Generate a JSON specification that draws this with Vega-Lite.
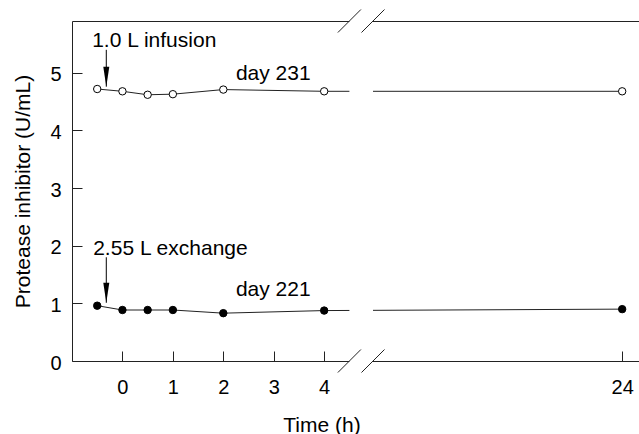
{
  "$schema": "https://vega.github.io/schema/vega-lite/v6.json",
  "width": 567,
  "height": 340,
  "autosize": "none",
  "padding": {"left": 72, "top": 21, "right": 0, "bottom": 73},
  "background": "white",
  "config": {
    "view": {"stroke": null},
    "font": "Liberation Sans",
    "axis": {
      "grid": false,
      "domainColor": "#222",
      "tickColor": "#222",
      "labelColor": "#000",
      "titleColor": "#000",
      "labelFont": "Liberation Sans",
      "titleFont": "Liberation Sans",
      "labelFontSize": 20,
      "titleFontSize": 21,
      "titleFontWeight": "normal"
    }
  },
  "datasets": {
    "series": [
      {"series": "day 231", "time": -0.5, "value": 4.72},
      {"series": "day 231", "time": 0, "value": 4.68},
      {"series": "day 231", "time": 0.5, "value": 4.62},
      {"series": "day 231", "time": 1, "value": 4.63},
      {"series": "day 231", "time": 2, "value": 4.71},
      {"series": "day 231", "time": 4, "value": 4.68},
      {"series": "day 231", "time": 24, "value": 4.68},
      {"series": "day 221", "time": -0.5, "value": 0.96},
      {"series": "day 221", "time": 0, "value": 0.885},
      {"series": "day 221", "time": 0.5, "value": 0.885},
      {"series": "day 221", "time": 1, "value": 0.885},
      {"series": "day 221", "time": 2, "value": 0.83},
      {"series": "day 221", "time": 4, "value": 0.875},
      {"series": "day 221", "time": 24, "value": 0.9}
    ],
    "gap": [{"x1": 4.5, "x2": 20, "y1": -0.3, "y2": 6.2}],
    "breaks": [
      {"x": 4.5, "y": 0}, {"x": 20, "y": 0},
      {"x": 4.5, "y": 5.9}, {"x": 20, "y": 5.9}
    ],
    "arrows": [
      {"x": -0.32, "top": 5.4, "tip": 4.76},
      {"x": -0.32, "top": 1.8, "tip": 1.01}
    ],
    "notes": [
      {"text": "1.0 L infusion", "x": -0.6, "y": 5.45},
      {"text": "day 231", "x": 2.25, "y": 4.88},
      {"text": "2.55 L exchange", "x": -0.58, "y": 1.84},
      {"text": "day 221", "x": 2.25, "y": 1.12}
    ]
  },
  "resolve": {"axis": {"x": "independent", "y": "independent"}},
  "layer": [
    {
      "data": {"name": "series"},
      "mark": {"type": "line", "color": "#222", "strokeWidth": 1},
      "encoding": {
        "x": {
          "field": "time", "type": "quantitative",
          "scale": {"domain": [-1, 4.5, 20, 24.27], "range": [0, 277.4, 301, 567], "nice": false, "zero": false},
          "axis": {
            "orient": "bottom", "values": [0, 1, 2, 3, 4, 24], "tickSize": -10, "labelPadding": 26,
            "title": "Time (h)", "titleX": 249.5, "titleY": 70, "titleBaseline": "alphabetic", "titleAlign": "center"
          }
        },
        "y": {
          "field": "value", "type": "quantitative",
          "scale": {"domain": [0, 5.9], "nice": false, "zero": false},
          "axis": {
            "orient": "left", "values": [0, 1, 2, 3, 4, 5], "tickSize": -10, "labelPadding": 21, "labelOffset": 2,
            "title": "Protease inhibitor (U/mL)", "titleX": -43, "titleY": 170, "titleBaseline": "alphabetic", "titleAlign": "center", "titleAngle": -90
          }
        },
        "detail": {"field": "series"}
      }
    },
    {
      "data": {"name": "series"},
      "mark": {"type": "point", "shape": "circle", "filled": true, "size": 55, "stroke": "#000", "strokeWidth": 1, "opacity": 1},
      "encoding": {
        "x": {"field": "time", "type": "quantitative", "axis": null},
        "y": {"field": "value", "type": "quantitative", "axis": null},
        "fill": {"field": "series", "type": "nominal", "scale": {"domain": ["day 221", "day 231"], "range": ["#000", "#fff"]}, "legend": null}
      }
    },
    {
      "data": {"name": "gap"},
      "mark": {"type": "rect", "color": "white"},
      "encoding": {
        "x": {"field": "x1", "type": "quantitative", "axis": {"orient": "top", "labels": false, "ticks": false, "title": null, "domain": true}},
        "x2": {"field": "x2"},
        "y": {"field": "y1", "type": "quantitative", "axis": null},
        "y2": {"field": "y2"}
      }
    },
    {
      "data": {"name": "breaks"},
      "mark": {"type": "point", "shape": "M-1,1L1,-1", "size": 529, "filled": false, "stroke": "#222", "strokeWidth": 1, "opacity": 1},
      "encoding": {
        "x": {"field": "x", "type": "quantitative", "axis": null},
        "y": {"field": "y", "type": "quantitative", "axis": null}
      }
    },
    {
      "data": {"name": "arrows"},
      "mark": {"type": "rule", "color": "#000", "strokeWidth": 1},
      "encoding": {
        "x": {"field": "x", "type": "quantitative", "axis": null},
        "y": {"field": "top", "type": "quantitative", "axis": null},
        "y2": {"field": "tip"}
      }
    },
    {
      "data": {"name": "arrows"},
      "mark": {"type": "point", "shape": "M-0.3,-2L0.3,-2L0,0Z", "size": 400, "filled": true, "color": "#000", "opacity": 1},
      "encoding": {
        "x": {"field": "x", "type": "quantitative", "axis": null},
        "y": {"field": "tip", "type": "quantitative", "axis": null}
      }
    },
    {
      "data": {"name": "notes"},
      "mark": {"type": "text", "align": "left", "baseline": "alphabetic", "fontSize": 21, "font": "Liberation Sans", "color": "#000"},
      "encoding": {
        "x": {"field": "x", "type": "quantitative", "axis": null},
        "y": {"field": "y", "type": "quantitative", "axis": null},
        "text": {"field": "text"}
      }
    }
  ]
}
